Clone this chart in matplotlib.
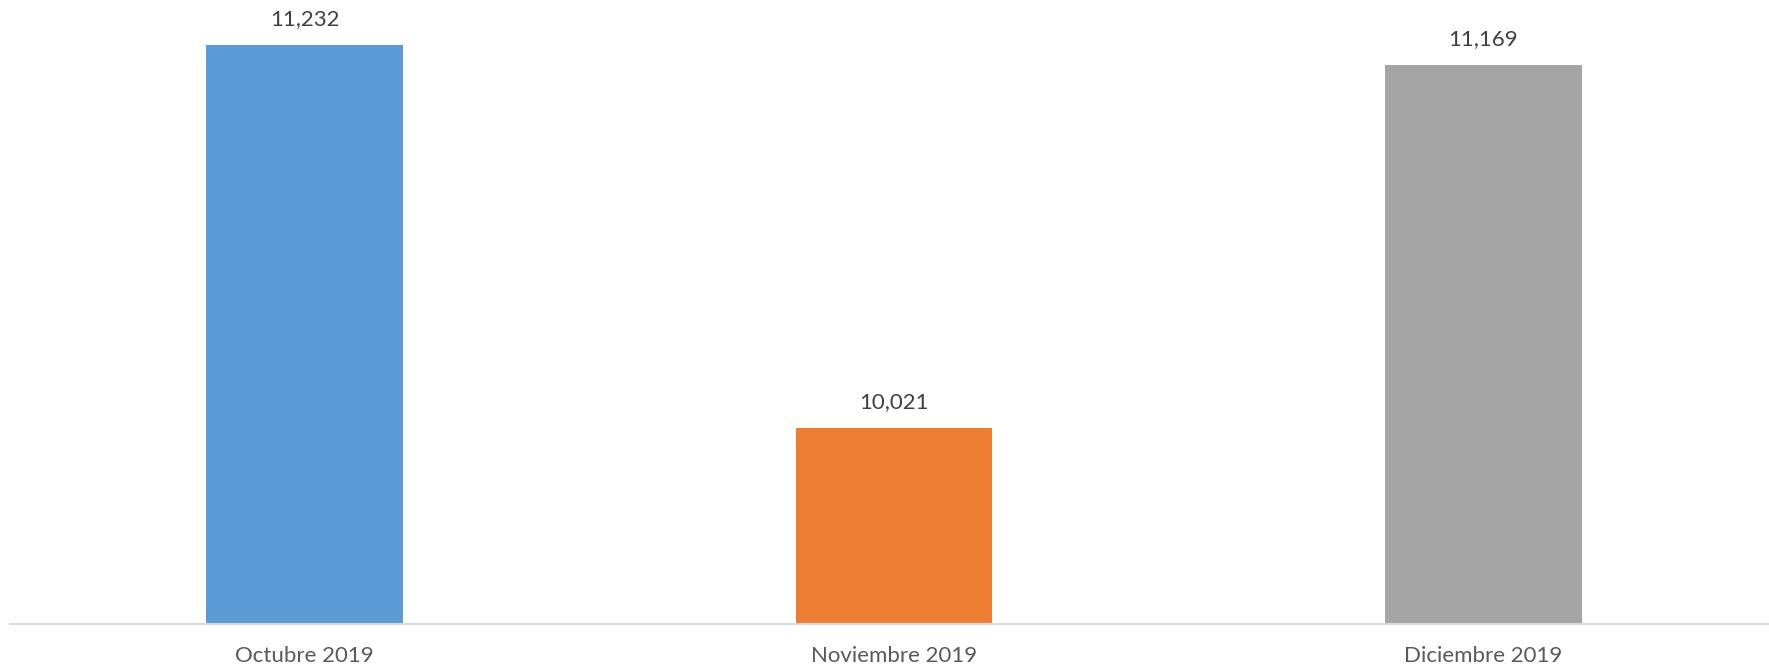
import matplotlib
matplotlib.use('Agg')
import matplotlib.pyplot as plt

categories = ['Octubre 2019', 'Noviembre 2019', 'Diciembre 2019']
values = [11232, 10021, 11169]
colors = ['#5b9bd5', '#ed7d31', '#a5a5a5']

W, H = 1769, 667
fig = plt.figure(figsize=(W / 100, H / 100), dpi=100)
# plot area: category axis starts ~10px in, baseline at y=624
ax = fig.add_axes([9.75 / W, (H - 624) / H, 1768.5 / W, 624 / H])

x = range(len(categories))
bars = ax.bar(x, values, width=0.334, color=colors, zorder=2)

ax.set_xlim(-0.5, 2.5)
ax.set_ylim(9400, 11374)

for b, v in zip(bars, values):
    ax.annotate(f'{v:,}', (b.get_x() + b.get_width() / 2, v),
                xytext=(0, 11.5), textcoords='offset points',
                ha='center', va='bottom', fontsize=16, color='#404040',
                family='Lato')

for s in ['top', 'right', 'left']:
    ax.spines[s].set_visible(False)
ax.spines['bottom'].set_color('#d9d9d9')
ax.spines['bottom'].set_linewidth(1.5)
ax.set_yticks([])
ax.set_xticks(list(x))
ax.set_xticklabels(categories, fontsize=16, color='#595959', family='Lato')
ax.tick_params(axis='x', length=0, pad=15.5)

fig.savefig('out.png', dpi=100)
